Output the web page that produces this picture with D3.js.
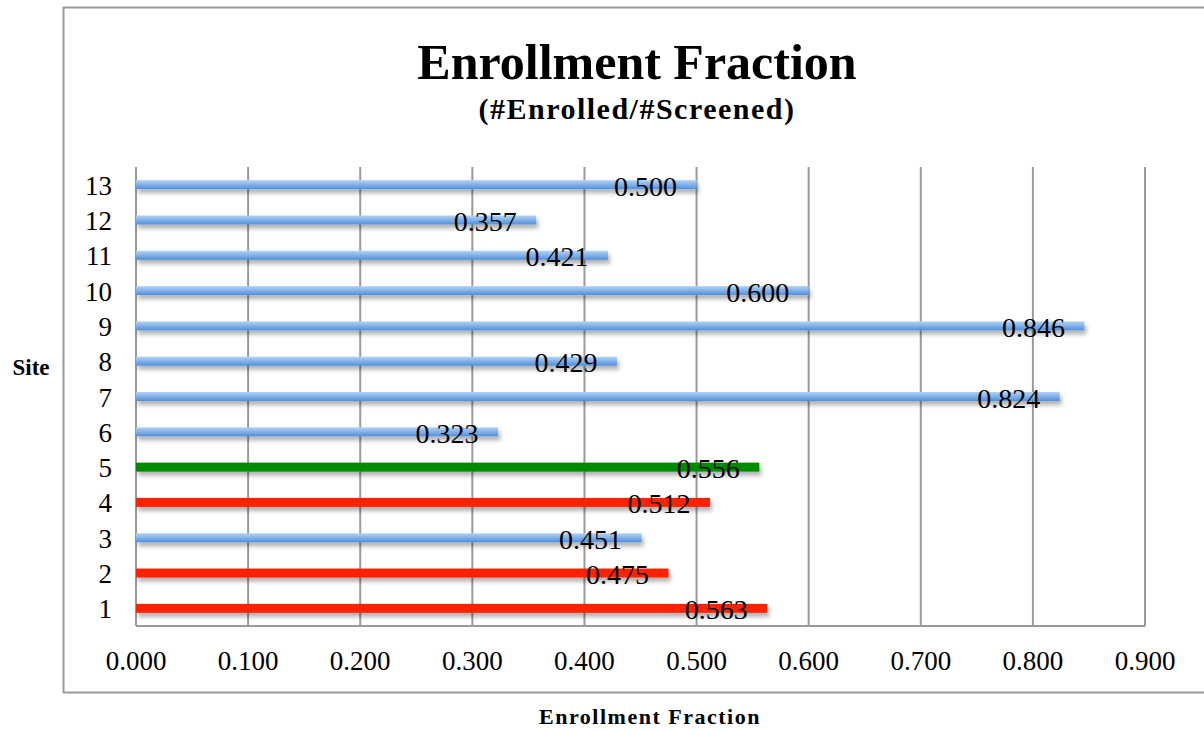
<!DOCTYPE html>
<html>
<head>
<meta charset="utf-8">
<script src="https://cdn.jsdelivr.net/npm/d3@7"></script>
<style>
  body { margin: 0; background: #fff; }
  svg { display: block; font-family: "Liberation Serif", "DejaVu Serif", serif; }
</style>
</head>
<body>
<svg id="chart" width="1204" height="730"></svg>
<script>
var sites = ["1", "2", "3", "4", "5", "6", "7", "8", "9", "10", "11", "12", "13"];
var fractions = [0.563, 0.475, 0.451, 0.512, 0.556, 0.323, 0.824, 0.429, 0.846, 0.600, 0.421, 0.357, 0.500];
var barKinds = ["red", "red", "blue", "red", "green", "blue", "blue", "blue", "blue", "blue", "blue", "blue", "blue"];
var xTicks = [0, 0.1, 0.2, 0.3, 0.4, 0.5, 0.6, 0.7, 0.8, 0.9];

var svg = d3.select("#chart"),
    plotLeft = 136, plotRight = 1145, plotTop = 167, plotBottom = 626;

var defs = svg.append("defs");
var grad = defs.append("linearGradient").attr("id", "blueGrad")
    .attr("x1", 0).attr("y1", 0).attr("x2", 0).attr("y2", 1);
grad.append("stop").attr("offset", "0%").attr("stop-color", "#b4d3f5");
grad.append("stop").attr("offset", "100%").attr("stop-color", "#4f8fdc");

var shadow = defs.append("filter").attr("id", "shadow")
    .attr("x", "-5%").attr("y", "-100%").attr("width", "110%").attr("height", "300%");
shadow.append("feDropShadow").attr("dx", 2).attr("dy", 4)
    .attr("stdDeviation", 2).attr("flood-color", "#000").attr("flood-opacity", 0.3);

var fills = { red: "#ff2200", green: "#008a00", blue: "url(#blueGrad)" };

// outer frame
svg.append("rect").attr("x", 63.5).attr("y", 7.5).attr("width", 1160).attr("height", 685)
    .attr("fill", "none").attr("stroke", "#9a9a9a").attr("stroke-width", 2);

var x = d3.scaleLinear().domain([0, 0.9]).range([plotLeft, plotRight]);
var y = d3.scaleBand().domain(sites.slice().reverse()).range([plotTop, plotBottom]);

// vertical gridlines
svg.append("g").selectAll("line").data(xTicks).enter().append("line")
    .attr("x1", function(d) { return x(d); }).attr("x2", function(d) { return x(d); })
    .attr("y1", plotTop).attr("y2", plotBottom)
    .attr("stroke", "#9a9a9a").attr("stroke-width", 2);

// bottom axis line
svg.append("line").attr("x1", plotLeft).attr("x2", plotRight).attr("y1", plotBottom).attr("y2", plotBottom)
    .attr("stroke", "#9a9a9a").attr("stroke-width", 2);

// x tick labels
svg.append("g").selectAll("text").data(xTicks).enter().append("text")
    .attr("x", function(d) { return x(d); }).attr("y", 670)
    .attr("text-anchor", "middle").attr("font-size", 27).attr("fill", "#000")
    .text(function(d) { return d3.format(".3f")(d); });

// y tick labels
svg.append("g").selectAll("text").data(sites).enter().append("text")
    .attr("x", 112).attr("y", function(d) { return y(d) + y.bandwidth() / 2 + 10; })
    .attr("text-anchor", "end").attr("font-size", 27).attr("fill", "#000")
    .text(function(d) { return d; });

var barH = 9;
var rows = sites.map(function(s, i) { return { site: s, value: fractions[i], kind: barKinds[i] }; });

svg.append("g").selectAll("rect").data(rows).enter().append("rect")
    .attr("x", x(0))
    .attr("y", function(d) { return y(d.site) + y.bandwidth() / 2 - barH / 2; })
    .attr("width", function(d) { return x(d.value) - x(0); })
    .attr("height", barH)
    .attr("fill", function(d) { return fills[d.kind]; })
    .attr("filter", "url(#shadow)");

// value labels
svg.append("g").selectAll("text").data(rows).enter().append("text")
    .attr("x", function(d) { return x(d.value) - 51; })
    .attr("y", function(d) { return y(d.site) + y.bandwidth() / 2 + 11; })
    .attr("text-anchor", "middle").attr("font-size", 28).attr("fill", "#000")
    .text(function(d) { return d3.format(".3f")(d.value); });

// titles
svg.append("text").attr("x", 637).attr("y", 79).attr("text-anchor", "middle")
    .attr("font-size", 50).attr("font-weight", "bold").text("Enrollment Fraction");
svg.append("text").attr("x", 637).attr("y", 119).attr("text-anchor", "middle")
    .attr("font-size", 30).attr("font-weight", "bold").attr("letter-spacing", 1.5)
    .text("(#Enrolled/#Screened)");
svg.append("text").attr("x", 31).attr("y", 375).attr("text-anchor", "middle")
    .attr("font-size", 23).attr("font-weight", "bold").text("Site");
svg.append("text").attr("x", 650).attr("y", 724).attr("text-anchor", "middle")
    .attr("font-size", 22).attr("font-weight", "bold").attr("letter-spacing", 1.5)
    .text("Enrollment Fraction");
</script>
</body>
</html>
